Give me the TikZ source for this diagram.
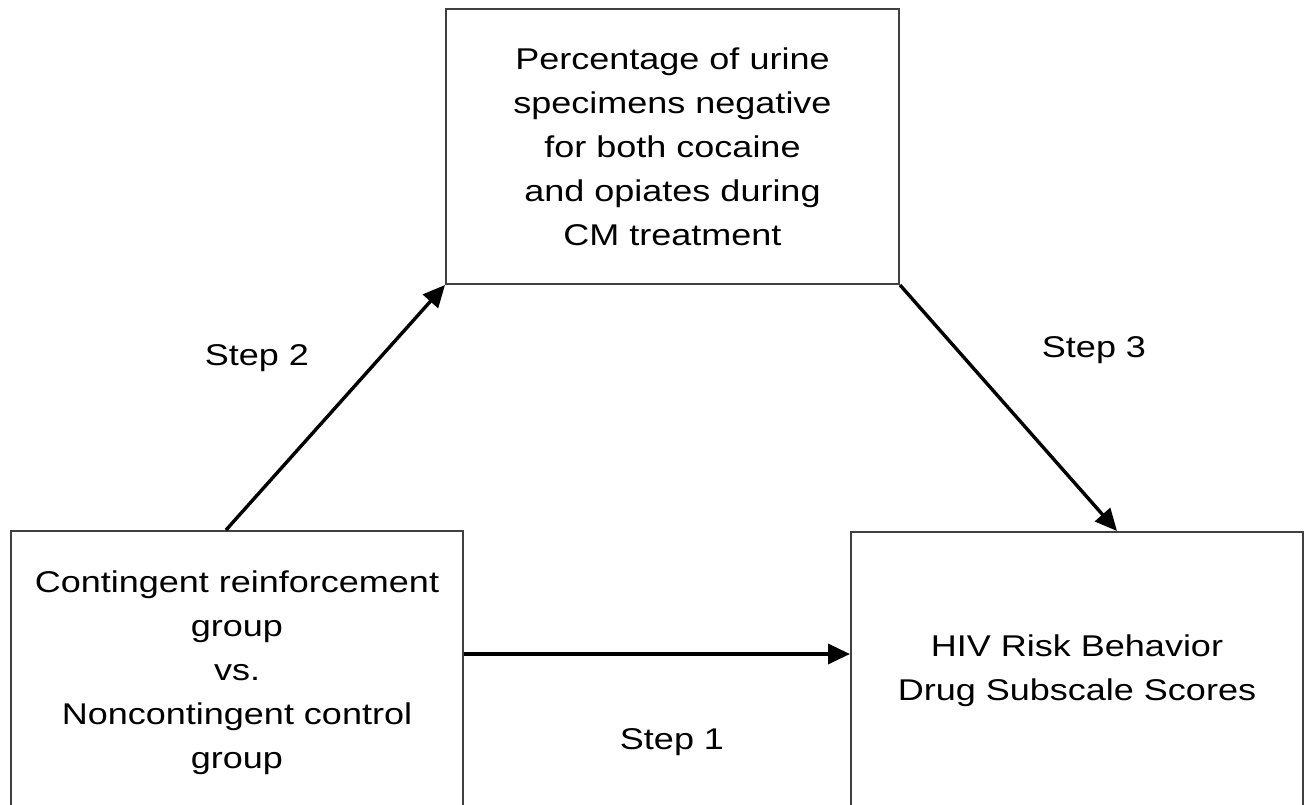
\documentclass[tikz,border=0pt]{standalone}
\usepackage{fontspec}
\setmainfont{Liberation Sans}[FakeStretch=1.2]
\usetikzlibrary{arrows.meta,calc}

\begin{document}
\begin{tikzpicture}[
    x=0.5pt, y=-0.5pt,
    font=\fontsize{15pt}{22pt}\selectfont,
    casella/.style={draw=black!75, line width=1pt, align=center,
      inner sep=0pt, minimum width=226.5pt},
    freccia/.style={line width=1.7pt, -{Triangle[length=11pt,width=10pt]}},
    passo/.style={inner sep=0pt},
  ]

  % --- area visibile ---------------------------------------------------
  \clip (0,0) rectangle (1311,804);

  % --- le tre caselle ---------------------------------------------------
  \node[casella, minimum height=137.5pt] (urine) at (672.5,146.5)
    {Percentage of urine\\specimens negative\\for both cocaine\\and opiates during\\CM treatment};
  \node[casella, minimum width=226pt, minimum height=141.5pt] (gruppo) at (237,672.5)
    {Contingent reinforcement\\group\\vs.\\Noncontingent control\\group};
  \node[casella, minimum width=226pt, minimum height=138.5pt] (rischio) at (1077,670.5)
    {HIV Risk Behavior\\Drug Subscale Scores};

  % --- le frecce --------------------------------------------------------
  \draw[freccia] ([yshift=9.25pt]gruppo.east) -- ([yshift=9.25pt]gruppo.east -| rischio.west);
  \draw[freccia] ([xshift=-5.5pt]gruppo.north) -- (urine.south west);
  \draw[freccia] (urine.south east) -- ([xshift=20pt]rischio.north);

  % --- etichette dei passi ---------------------------------------------
  \node[passo] (passo1) at (672,742) {Step 1};
  \node[passo] (passo2) at (257,358) {Step 2};
  \node[passo] (passo3) at (1094,350) {Step 3};

\end{tikzpicture}
\end{document}
